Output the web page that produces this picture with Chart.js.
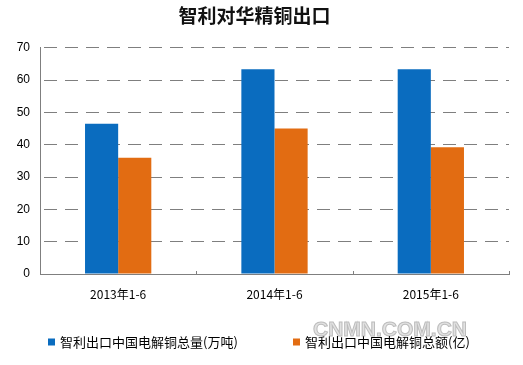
<!DOCTYPE html>
<html><head><meta charset="utf-8">
<script src="https://cdn.jsdelivr.net/npm/chart.js@4/dist/chart.umd.min.js"></script>
<style>html,body{margin:0;padding:0;background:#fff;}#wrap{width:523px;height:365px;}</style>
</head><body><div id="wrap"><canvas id="c" width="523" height="365"></canvas></div>
<script>
const titleText = '智利对华精铜出口';
const categories = ['2013年1-6', '2014年1-6', '2015年1-6'];
const seriesNames = ['智利出口中国电解铜总量(万吨)', '智利出口中国电解铜总额(亿)'];
const volumeValues = [46.5, 63.4, 63.4];
const amountValues = [36.0, 45.0, 39.2];
const yTicks = [0, 10, 20, 30, 40, 50, 60, 70];
const watermark = 'CNMN.COM.CN';

const BLUE = '#0a6cbf', ORANGE = '#e26c12', GRID = '#7f7f7f';
const CJK = '"Noto Sans CJK SC", "Noto Sans", sans-serif';

const extras = {
  id: 'extras',
  afterDraw(chart) {
    const ctx = chart.ctx, xs = chart.scales.x, ca = chart.chartArea;
    ctx.save();
    // small upward tick marks at category boundaries
    ctx.strokeStyle = GRID; ctx.lineWidth = 1;
    const n = categories.length, w = (xs.right - xs.left) / n;
    for (let i = 1; i <= n; i++) {
      const x = Math.round(xs.left + i * w) + 0.5;
      ctx.beginPath(); ctx.moveTo(x, ca.bottom - 3); ctx.lineTo(x, ca.bottom); ctx.stroke();
    }
    // watermark
    ctx.font = 'bold 21px "Liberation Sans", Arial, sans-serif';
    ctx.textBaseline = 'middle'; ctx.textAlign = 'left';
    ctx.fillStyle = '#e2e2e2'; ctx.strokeStyle = '#bdbdbd'; ctx.lineWidth = 1;
    ctx.fillText(watermark, 313, 330);
    ctx.strokeText(watermark, 313, 330);
    // legend
    ctx.font = '13px ' + CJK;
    const ds = chart.data.datasets;
    const startXs = [48, 293];
    ds.forEach((d, i) => {
      const x = startXs[i], y = 342;
      ctx.fillStyle = d.backgroundColor;
      ctx.fillRect(x, y - 3.5, 7, 7);
      ctx.fillStyle = '#000';
      ctx.fillText(d.label, x + 12, y);
    });
    ctx.restore();
  }
};

new Chart(document.getElementById('c'), {
  type: 'bar',
  data: {
    labels: categories,
    datasets: [
      { label: seriesNames[0], data: volumeValues, backgroundColor: BLUE },
      { label: seriesNames[1], data: amountValues, backgroundColor: ORANGE }
    ]
  },
  options: {
    responsive: false,
    animation: false,
    devicePixelRatio: 1,
    layout: { padding: { left: 0, right: 14, top: 0, bottom: 0 } },
    datasets: { bar: { categoryPercentage: 0.424, barPercentage: 1.0 } },
    plugins: {
      legend: { display: false },
      tooltip: { enabled: false },
      title: {
        display: true, text: titleText, color: '#111',
        font: { family: CJK, size: 19, weight: 'bold', lineHeight: 1.2 },
        padding: { top: 4, bottom: 21 }
      }
    },
    scales: {
      x: {
        grid: { display: false },
        border: { display: true, color: GRID, width: 1 },
        ticks: { color: '#000', font: { family: CJK, size: 12 }, padding: 5, maxRotation: 0 },
        afterFit(s) { s.height = 91; }
      },
      y: {
        min: 0, max: 70,
        afterBuildTicks(s) { s.ticks = yTicks.map(v => ({ value: v })); },
        grid: { color: GRID, lineWidth: 1, drawTicks: false },
        border: { display: true, color: GRID, width: 1, dash: [13, 8], dashOffset: -3 },
        ticks: { color: '#000', font: { family: '"Liberation Sans", Arial, sans-serif', size: 12 }, padding: 10 },
        afterFit(s) { s.width = 40; }
      }
    }
  },
  plugins: [extras]
});
</script>
</body></html>
